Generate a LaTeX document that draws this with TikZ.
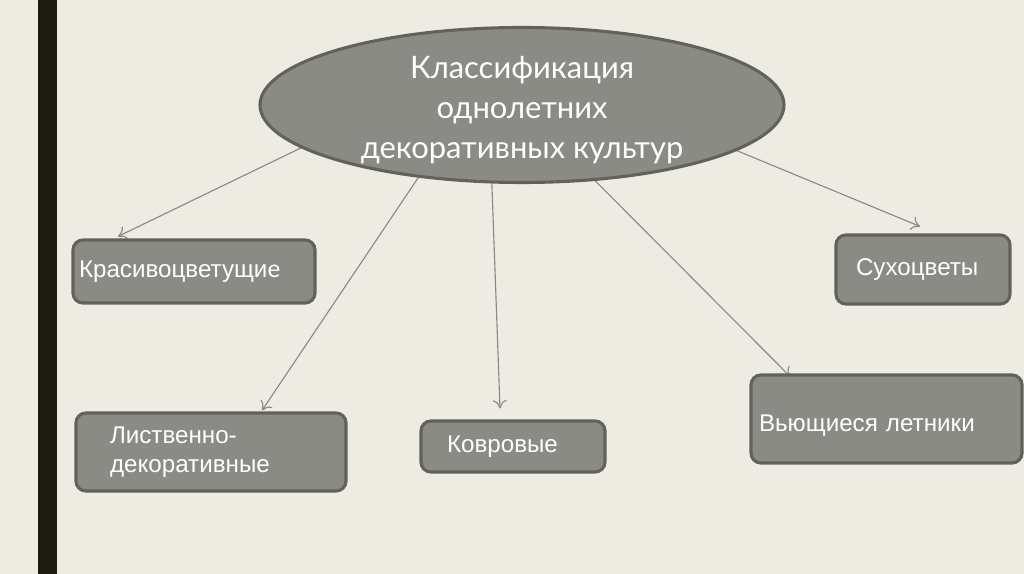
\documentclass[tikz,border=0pt]{standalone}
\usepackage{fontspec}
\setmainfont{Liberation Sans}
\newfontfamily\titlefont{Lato}
\usetikzlibrary{shapes.geometric,backgrounds,arrows.meta}

\definecolor{paper}{HTML}{EEEBE3}
\definecolor{bar}{HTML}{1B1B10}
\definecolor{boxFill}{HTML}{8B8B85}
\definecolor{boxLine}{HTML}{62625D}
\definecolor{arrowLine}{HTML}{8A8A84}

\tikzstyle{grayEllipse} = [ellipse, draw=boxLine, line width=2.2pt, fill=boxFill, text=white, inner xsep=0pt, inner ysep=-0.2cm, align=center, font={\titlefont\fontsize{22}{28.5}\selectfont}]
\tikzstyle{grayBox} = [rectangle, draw=boxLine, line width=2.2pt, fill=boxFill, text=white, rounded corners=7pt, align=left, inner ysep=0pt, font={\fontsize{17.2}{20.5}\selectfont}]
\tikzstyle{link} = [draw=arrowLine, line width=0.8pt, -{To[length=6pt,width=10pt]}]

\begin{document}
\begin{tikzpicture}
        \useasboundingbox (0,0) rectangle (25.6,14.35);
        \begin{scope}[on background layer]
            \fill[paper] (0,0) rectangle (25.6,14.35);
            \fill[bar] (0.95,0) rectangle (1.425,14.35);
        \end{scope}
        % centre
        \node[grayEllipse, minimum width=13.1cm, minimum height=3.875cm] (KL) at (13.05,11.725) {\rule{0pt}{0.8cm}Классификация\\однолетних\\декоративных культур};
        % boxes
        \node[grayBox, minimum height=1.575cm, inner xsep=0.15cm, text width=5.75cm] (KR) at (4.85,7.5625) {Красивоцветущи{\titlefont е}};
        \node[grayBox, minimum height=1.725cm, inner xsep=0.5cm, text width=3.35cm] (SU) at (23.075,7.6125) {Сухоцветы};
        \node[grayBox, minimum height=2.2cm, inner xsep=0.2cm, text width=6.375cm, text height=0.75cm] (VL) at (22.1625,3.875) {Вьющиеся летники};
        \node[grayBox, minimum height=1.95cm, inner xsep=0.85cm, text width=5.05cm] (LD) at (5.275,3.05) {Лиственно-\\декоративные};
        \node[grayBox, minimum height=1.275cm, inner xsep=0.65cm, text width=3.3cm] (KO) at (12.825,3.1875) {Ковровые};
        % arrows
        \begin{scope}[on background layer]
            \draw[link] (KL.191) -- ([xshift=-1.9cm,yshift=0.05cm]KR.north);
            \draw[link] (KL.215) -- ([xshift=1.275cm,yshift=0.025cm]LD.north);
            \draw[link] (KL.249) -- ([xshift=-0.325cm,yshift=0.275cm]KO.north);
            \draw[link] (KL.314) -- ([xshift=-2.41cm,yshift=-0.075cm]VL.north);
            \draw[link] (KL.348) -- ([xshift=-0.075cm,yshift=0.175cm]SU.north);
        \end{scope}
\end{tikzpicture}
\end{document}
